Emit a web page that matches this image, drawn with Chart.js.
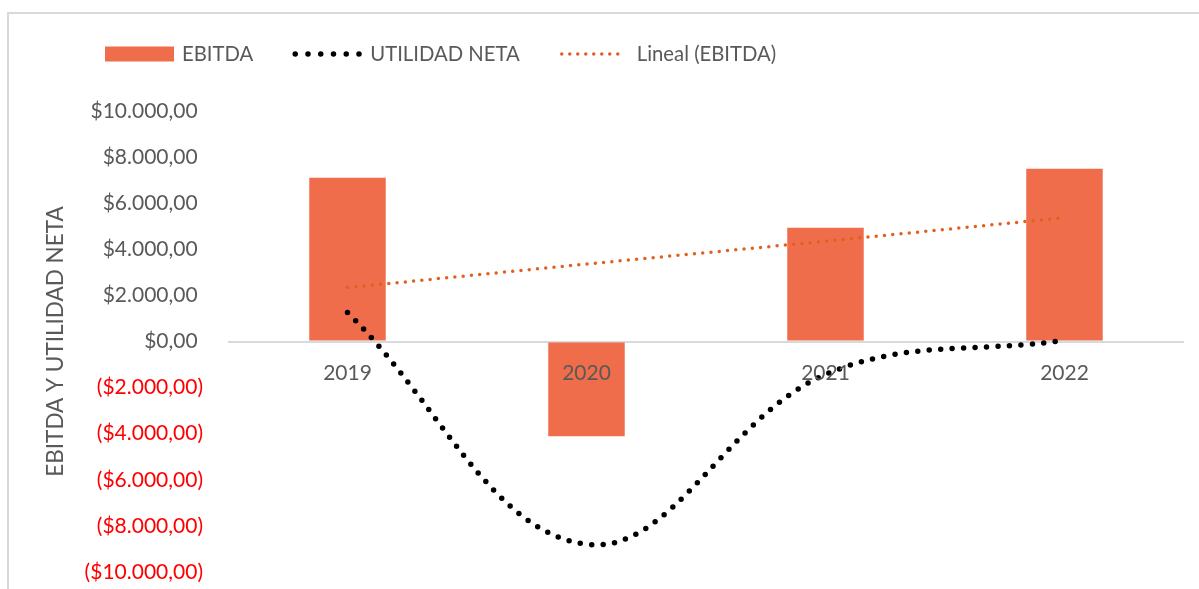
<!DOCTYPE html>
<html>
<head>
<meta charset="utf-8">
<script src="https://cdn.jsdelivr.net/npm/chart.js@4/dist/chart.umd.min.js"></script>
<style>
  html, body { margin: 0; padding: 0; background: #fff; overflow: hidden; }
  #wrap { position: relative; width: 1199px; height: 589px; }
  #frame { position: absolute; left: 7px; top: 12px; width: 1300px; height: 700px;
           border-left: 2px solid #d9d9d9; border-top: 2px solid #d9d9d9; }
  #myChart { position: absolute; left: 0; top: 0; }
</style>
</head>
<body>
<div id="wrap">
  <div id="frame"></div>
  <canvas id="myChart" width="1199" height="589"></canvas>
</div>
<script>
    const years = ['2019', '2020', '2021', '2022'];
    const ebitda = [7100, -4110, 4935, 7490];
    const utilidadNeta = [1255, -8800, -1430, 50];
    const linealEbitda = [2340, 3360, 4350, 5370];
    const yTicks = [10000, 8000, 6000, 4000, 2000, 0, -2000, -4000, -6000, -8000, -10000];

    const FONT = 'Lato, "Open Sans", sans-serif';
    const GRAY = '#595959';

    function money(v) {
        const parts = Math.abs(v).toFixed(2).split('.');
        const s = '$' + parts[0].replace(/\B(?=(\d{3})+(?!\d))/g, '.') + ',' + parts[1];
        // Excel style: negatives in parentheses, positives padded by a space
        return v < 0 ? '(' + s + ')' : s + ' ';
    }

    // legend drawn like the Excel one: wide box / dotted line samples
    const legendPlugin = {
        id: 'excelLegend',
        afterDraw(chart) {
            const ctx = chart.ctx;
            let x = 105;
            const y = 54;
            ctx.save();
            ctx.font = '20.3px ' + FONT;
            ctx.textBaseline = 'middle';
            chart.data.datasets.forEach(ds => {
                if (ds.type === 'bar') {
                    ctx.fillStyle = ds.backgroundColor;
                    ctx.fillRect(x, y - 7.5, 69, 15);
                } else {
                    ctx.strokeStyle = ds.borderColor;
                    ctx.lineWidth = ds.borderWidth;
                    ctx.lineCap = 'round';
                    ctx.setLineDash(ds.legendDash);
                    ctx.beginPath();
                    ctx.moveTo(x + 2, y);
                    ctx.lineTo(x + 66, y);
                    ctx.stroke();
                    ctx.setLineDash([]);
                }
                ctx.fillStyle = GRAY;
                ctx.fillText(ds.label, x + 77, y);
                x += 77 + ctx.measureText(ds.label).width + 40;
            });
            ctx.restore();
        }
    };

    const ctx = document.getElementById('myChart').getContext('2d');
    new Chart(ctx, {
        data: {
            labels: years,
            datasets: [{
                type: 'bar',
                label: 'EBITDA',
                data: ebitda,
                backgroundColor: '#EF6D4A',
                categoryPercentage: 1,
                barPercentage: 0.32,
                order: 3
            }, {
                type: 'line',
                label: 'UTILIDAD NETA',
                data: utilidadNeta,
                borderColor: '#000000',
                borderWidth: 5.5,
                borderDash: [0, 11.5],
                legendDash: [0, 12.75],
                borderCapStyle: 'round',
                tension: 0.38,
                pointRadius: 0,
                fill: false,
                order: 1
            }, {
                type: 'line',
                label: 'Lineal (EBITDA)',
                data: linealEbitda,
                borderColor: '#E0611F',
                borderWidth: 3.5,
                borderDash: [0, 8.3],
                legendDash: [0, 8],
                borderCapStyle: 'round',
                tension: 0,
                pointRadius: 0,
                fill: false,
                order: 2
            }]
        },
        options: {
            responsive: false,
            animation: false,
            layout: { padding: { left: 42.5, right: 15, top: 111, bottom: 17 } },
            plugins: {
                legend: { display: false },
                tooltip: { enabled: false }
            },
            scales: {
                x: {
                    position: { y: 0 },
                    afterFit: s => { s.height = 0; },
                    grid: { display: false, drawTicks: false },
                    border: { display: false },
                    ticks: {
                        z: 1, // labels over the bars, like "2020"
                        color: GRAY,
                        padding: 19,
                        font: { family: FONT, size: 21 }
                    }
                },
                y: {
                    min: -10000,
                    max: 10000,
                    afterBuildTicks: s => { s.ticks = yTicks.map(v => ({ value: v })); },
                    afterFit: s => {
                        s.width = 185.5;
                        // tick padding must not push the plot area in
                        s.paddingTop = 0;
                        s.paddingBottom = 0;
                    },
                    grid: {
                        drawTicks: false,
                        lineWidth: 2,
                        color: c => c.tick && c.tick.value === 0 ? '#d9d9d9' : 'rgba(0,0,0,0)'
                    },
                    border: { display: false },
                    ticks: {
                        padding: 25,
                        color: c => c.tick && c.tick.value < 0 ? '#FF0000' : GRAY,
                        font: { family: FONT, size: 21 },
                        callback: v => money(v)
                    },
                    title: {
                        display: true,
                        text: 'EBITDA Y UTILIDAD NETA',
                        color: GRAY,
                        padding: 0,
                        font: { family: FONT, size: 22.5, lineHeight: 1.2 }
                    }
                }
            }
        },
        plugins: [legendPlugin]
    });
</script>
</body>
</html>
